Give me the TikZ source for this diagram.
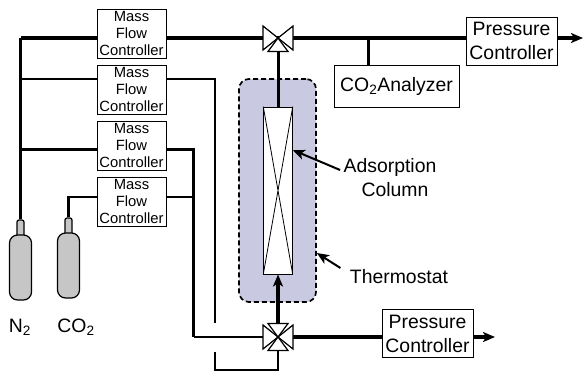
\documentclass[tikz,border=0pt]{standalone}
\usepackage{fontspec}
\setmainfont{Liberation Sans}
\usetikzlibrary{positioning}
\usetikzlibrary{chains}
\usetikzlibrary{arrows.meta}
\definecolor{bathblue}{HTML}{C9C9E1}
\definecolor{bottlegray}{HTML}{C6C6C6}

\begin{document}
\begin{tikzpicture}[x=1pt,y=-1pt,
            node distance = 6pt,
            start chain = going below,
            >={Stealth[length=12pt,width=10pt,inset=3pt]},
            box/.style = {draw,line width=1pt,fill=white,align=center,inner sep=1pt},
            mfc/.style = {box,on chain,minimum width=69pt,minimum height=49pt,
                text depth=-3pt,font=\fontsize{14.8}{17.4}\selectfont},
            pc/.style = {box,minimum width=91pt,minimum height=48pt,
                font=\fontsize{19.4}{24}\selectfont},
            label/.style = {font=\fontsize{19.4}{24}\selectfont,align=center},
            valve/.style = {minimum width=30pt,minimum height=28pt,inner sep=0pt},
            tri/.style = {draw,line width=1.2pt,fill=white},
            body/.style = {draw,line width=1.2pt,fill=bottlegray,rounded corners=8pt,
                minimum width=22pt,minimum height=65pt,inner sep=0pt},
            neck/.style = {draw,line width=1.2pt,fill=bottlegray,
                rounded corners=2pt,minimum width=7pt,minimum height=17pt,inner sep=0pt},
            pipe/.style = {line width=3.4pt},
            thinpipe/.style = {line width=2.2pt},
            lead/.style = {->,line width=2pt}]
            \useasboundingbox (0,0) rectangle (583,372);
            % thermostat and column
            \node[draw,dash pattern=on 5pt off 3pt,line width=1.7pt,fill=bathblue,
                rounded corners=10pt,minimum width=77pt,minimum height=223pt] (bath) at (277.5,190.5) {};
            \node[box,minimum width=28.5pt,minimum height=167pt] (column) at (278,190.5) {};
            \draw[line width=0.8pt] (column.north west) -- (column.south east)
                (column.north east) -- (column.south west);
            % controllers
            \node[mfc,at={(131.5,33.5)}] (mfc1) {Mass\\Flow\\Controller};
            \node[mfc] (mfc2) {Mass\\Flow\\Controller};
            \node[mfc] (mfc3) {Mass\\Flow\\Controller};
            \node[mfc] (mfc4) {Mass\\Flow\\Controller};
            \node[pc] (pctop) at (511.5,41) {Pressure\\Controller};
            \node[pc] (pcbot) at (427.5,333.5) {Pressure\\Controller};
            \node[box,minimum width=125pt,minimum height=42pt,
                font=\fontsize{19.4}{24}\selectfont] (analyzer) at (396.5,86)
                {CO\textsubscript{2}Analyzer};
            % bottles
            \node[neck] (n2neck) at (20.5,228.5) {};
            \node[neck] (co2neck) at (68.5,226.5) {};
            \node[body] (n2body) at (20.5,267.5) {};
            \node[body] (co2body) at (68.5,265.5) {};
            \node[label] (n2label) at (20,327) {N\textsubscript{2}};
            \node[label] (co2label) at (76,327) {CO\textsubscript{2}};
            % valves
            \node[valve] (topvalve) at (278,38) {};
            \node[valve] (botvalve) at (278,337) {};
            \coordinate (in1) at ([yshift=-4.5pt]mfc1.west);
            \coordinate (out1) at ([yshift=-4.5pt]mfc1.east);
            \coordinate (in2) at ([yshift=10.5pt]mfc2.west);
            \coordinate (out2) at ([yshift=10.5pt]mfc2.east);
            \coordinate (in3) at ([yshift=-4pt]mfc3.west);
            \coordinate (out3) at ([yshift=-4pt]mfc3.east);
            \coordinate (in4) at ([yshift=4.5pt]mfc4.west);
            \coordinate (out4) at ([yshift=4.5pt]mfc4.east);
            \coordinate (gaptop) at (215,323);
            \coordinate (gapbot) at (215,352);
            \coordinate (lowbend) at (278,370);
            \coordinate (bus) at (193.5,337);
            \coordinate (tee) at (368.5,38);
            \coordinate (topout) at (583,38);
            \coordinate (botout) at (495,337);
            % gas lines
            \draw[pipe] (in1) -- (in1 -| n2neck.north);
            \draw[line width=2.8pt] (in1 -| n2neck.north) -- (n2neck.north);
            \draw[pipe] (out1) -- (topvalve.center) -- (pctop.west |- in1);
            \draw[line width=2.6pt] (in2) -- (in2 -| n2neck.north);
            \draw[line width=2.6pt] (out2) -| (gaptop);
            \draw[thinpipe] (in3) -- (in3 -| n2neck.north);
            \draw[line width=2.6pt] (out3) -| (bus);
            \draw[thinpipe] (bus) -- (botvalve.center);
            \draw[line width=2.6pt] (in4) -| (co2neck.north);
            \draw[thinpipe] (out4) -- (out4 -| bus);
            \draw[thinpipe] (gapbot) |- (lowbend) -- (botvalve.center);
            \draw[line width=3pt] (topvalve.center) -- (column.north);
            \draw[line width=2.6pt] (tee) -- (tee |- analyzer.north);
            \draw[pipe] (botvalve.center) -- (pcbot.west |- botvalve);
            \draw[->,line width=3.4pt] (botvalve.center) -- (column.south);
            \draw[pipe,->] (pctop.east |- in1) -- (topout);
            \draw[pipe,->] (pcbot.east |- botvalve) -- (botout);
            % valve bodies
            \foreach \v in {topvalve,botvalve} {
                \draw[tri] (\v.center) -- +(-15,-12) -- +(-15,12) -- cycle;
                \draw[tri] (\v.center) -- +(15,-12) -- +(15,12) -- cycle;
                \draw[tri] (\v.center) -- +(-10,13.5) -- +(10,13.5) -- cycle;
            }
            \draw[tri] (botvalve.center) -- +(-10,-13.5) -- +(10,-13.5) -- cycle;
            % labels
            \node[label] (adsorption) at (390,178) {Adsorption\\\hspace*{10pt}Column};
            \node[label] (thermostat) at (399,277) {Thermostat};
            \draw[lead] ([yshift=8pt]adsorption.west) -- (column.east |- 0,150);
            \draw[lead] ([shift={(-6pt,9pt)}]thermostat.west) -- (bath.east |- 0,253);
\end{tikzpicture}
\end{document}
